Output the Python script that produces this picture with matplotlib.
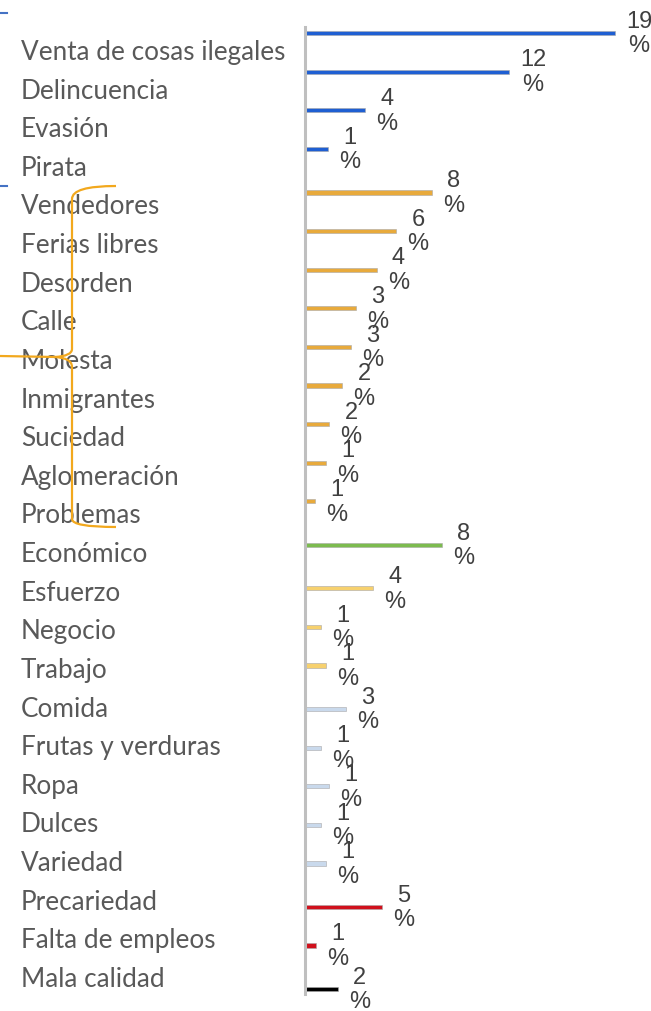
import matplotlib
matplotlib.use("Agg")
import matplotlib.pyplot as plt
from matplotlib.path import Path
from matplotlib.patches import PathPatch

categorias = ["Venta de cosas ilegales", "Delincuencia", "Evasión", "Pirata",
              "Vendedores", "Ferias libres", "Desorden", "Calle", "Molesta",
              "Inmigrantes", "Suciedad", "Aglomeración", "Problemas",
              "Económico", "Esfuerzo", "Negocio", "Trabajo",
              "Comida", "Frutas y verduras", "Ropa", "Dulces", "Variedad",
              "Precariedad", "Falta de empleos", "Mala calidad"]
valores = [19.0, 12.5, 3.7, 1.4,
           7.8, 5.6, 4.4, 3.1, 2.8, 2.3, 1.5, 1.3, 0.6,
           8.4, 4.2, 1.0, 1.3,
           2.5, 1.0, 1.5, 1.0, 1.3,
           4.7, 0.7, 2.0]
etiquetas = ["19", "12", "4", "1",
             "8", "6", "4", "3", "3", "2", "2", "1", "1",
             "8", "4", "1", "1",
             "3", "1", "1", "1", "1",
             "5", "1", "2"]
# serie a la que pertenece cada categoria
serie = [0, 0, 0, 0,
         1, 1, 1, 1, 1, 1, 1, 1, 1,
         2, 3, 3, 3,
         4, 4, 4, 4, 4,
         5, 5, 6]
colores = ["#1F5FD2", "#E8AA3C", "#7CBB4F", "#F7D16E", "#C9D9EC", "#D0101C", "#000000"]

W, H = 651, 1012
fig = plt.figure(figsize=(W / 100, H / 100), dpi=100)
ax = fig.add_axes([305 / W, 17 / H, 346 / W, 967 / H])

for i, (v, s) in enumerate(zip(valores, serie)):
    y = i + (s - 3) * 0.126 - 0.035
    ax.barh(y, v, height=0.11, color=colores[s], edgecolor="#a8a8a8", linewidth=0.4)
    ax.annotate(etiquetas[i] + "\n%", (v, y), xytext=(8, 0), textcoords="offset points",
                ha="left", va="center", multialignment="center",
                fontsize=17, color="#404040", family="Liberation Sans", linespacing=1.15)

ax.set_xlim(0, 346 / 16.3)
ax.set_ylim(24.47, -0.57)
ax.set_yticks(range(len(categorias)))
ax.set_yticklabels(categorias, fontsize=18.8, color="#595959", family="Lato", ha="left")
ax.tick_params(axis="y", length=0, pad=284 * 0.72)
ax.set_xticks([])
for sp in ["top", "right", "bottom"]:
    ax.spines[sp].set_visible(False)
ax.spines["left"].set_color("#bfbfbf")
ax.spines["left"].set_linewidth(2.2)


def fpt(x, y):
    return (x / W, 1 - y / H)


# llave naranja
verts = [fpt(116, 187), fpt(72, 187), fpt(72, 200), fpt(72, 350), fpt(72, 357), fpt(55, 358), fpt(0, 357),
         fpt(55, 358), fpt(72, 359), fpt(72, 368), fpt(72, 520), fpt(72, 528), fpt(116, 528)]
codes = [Path.MOVETO, Path.CURVE3, Path.CURVE3, Path.LINETO, Path.CURVE3, Path.CURVE3, Path.LINETO,
         Path.MOVETO, Path.CURVE3, Path.CURVE3, Path.LINETO, Path.CURVE3, Path.CURVE3]
fig.patches.append(PathPatch(Path(verts, codes), transform=fig.transFigure, fill=False,
                             edgecolor="#F2A81D", linewidth=1.6))
# trozos de llave azul
for yy in [14, 187]:
    fig.lines.append(plt.Line2D([0, 7 / W], [1 - yy / H, 1 - yy / H], transform=fig.transFigure,
                                color="#4472C4", linewidth=1.5))

fig.savefig("out.png", dpi=100)
